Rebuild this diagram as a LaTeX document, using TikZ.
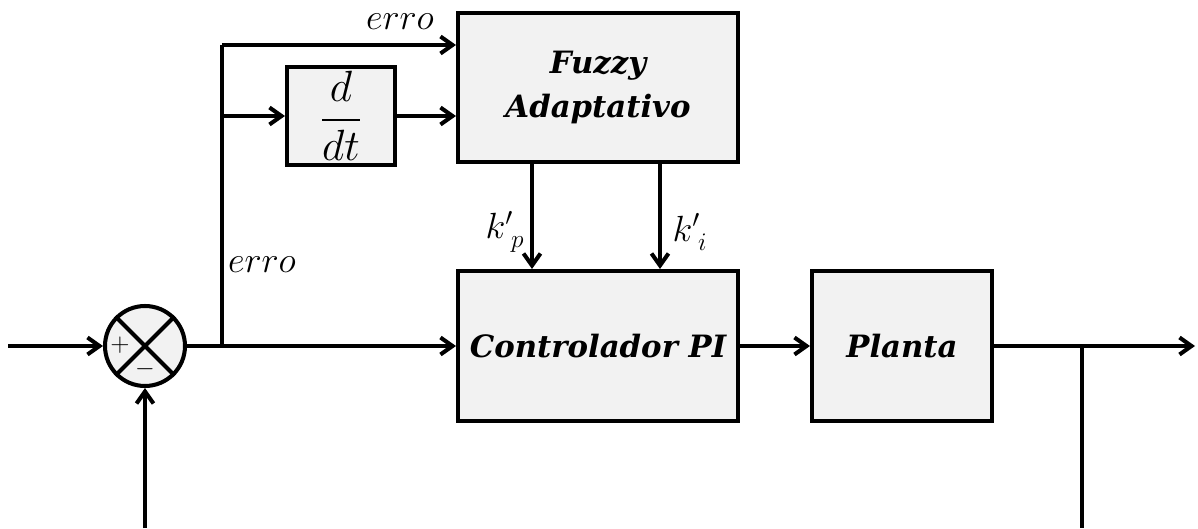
\documentclass[tikz,border=0pt]{standalone}
\usepackage{amsmath}
\usepackage{fontspec}
\setmainfont{DejaVu Serif}
\usetikzlibrary{positioning,calc}
\usetikzlibrary{arrows.meta}
\definecolor{BoxGray}{RGB}{242,242,242}
\tikzset{
  blk/.style={draw=black,fill=BoxGray,line width=2.3pt,align=center,
    font=\fontsize{17.5}{25}\selectfont\bfseries\itshape},
  sumj/.style={circle,draw=black,fill=BoxGray,line width=2.3pt,minimum size=1.6cm,inner sep=0pt},
  edge/.style={draw=black,line width=2.3pt},
  flow/.style={edge,-{Straight Barb[length=2.4mm,width=3.4mm,line width=2.3pt]}},
  lab/.style={font=\fontsize{21}{25}\selectfont},
}
\begin{document}
\begin{tikzpicture}
\useasboundingbox (0,0) rectangle (23.96,10.56);
% blocks
\node[sumj] (sum) at (2.90,3.64) {};
\node[blk,minimum width=2.16cm,minimum height=1.96cm,inner sep=0pt,font=\fontsize{24}{28}\selectfont] (ddt) at (6.82,8.24) {$\dfrac{d}{dt}$};
\node[blk,minimum width=5.6cm,minimum height=2.98cm] (fuzzy) at (11.96,8.81) {Fuzzy\\Adaptativo};
\node[blk,minimum width=5.6cm,minimum height=3.0cm] (pi) at (11.96,3.64) {Controlador PI};
\node[blk,minimum width=3.6cm,minimum height=3.0cm] (planta) at (18.04,3.64) {Planta};
% summing junction cross and signs
\draw[edge] (sum.45)--(sum.225);
\draw[edge] (sum.135)--(sum.315);
\node[font=\Large] at ($(sum.center)+(-0.5,0.02)$) {$+$};
\node[font=\Large] at ($(sum.center)+(0,-0.47)$) {$-$};
% points
\coordinate (in) at (0.16,3.64);
\coordinate (br) at (4.44,3.64);
\coordinate (top) at (4.44,9.66);
\coordinate (mid) at (4.44,8.24);
\coordinate (fb) at (2.90,0);
\coordinate (out) at (23.9,3.64);
\coordinate (tap) at (21.64,3.64);
\coordinate (tapdown) at (21.64,0);
% connectors
\draw[flow] (in)--(sum.west);
\draw[flow] (fb)--(sum.south);
\draw[flow] (sum.east)--(pi.west);
\draw[edge] (br)--(top);
\draw[flow] (top)--(top-|fuzzy.west);
\draw[flow] (mid)--(ddt.west);
\draw[flow] (ddt.east)--(ddt.east-|fuzzy.west);
\draw[flow] (fuzzy.south-|10.64,0)--(pi.north-|10.64,0);
\draw[flow] (fuzzy.south-|13.2,0)--(pi.north-|13.2,0);
\draw[flow] (pi.east)--(planta.west);
\draw[flow] (planta.east)--(out);
\draw[edge] (tap)--(tapdown);
% labels
\node[lab] at (8.0,10.12) {$erro$};
\node[lab] at (5.24,5.26) {$erro$};
\node[lab] at (10.1,5.92) {$k'_{\;p}$};
\node[lab] at (13.8,5.92) {$k'_{\;i}$};
\end{tikzpicture}
\end{document}
